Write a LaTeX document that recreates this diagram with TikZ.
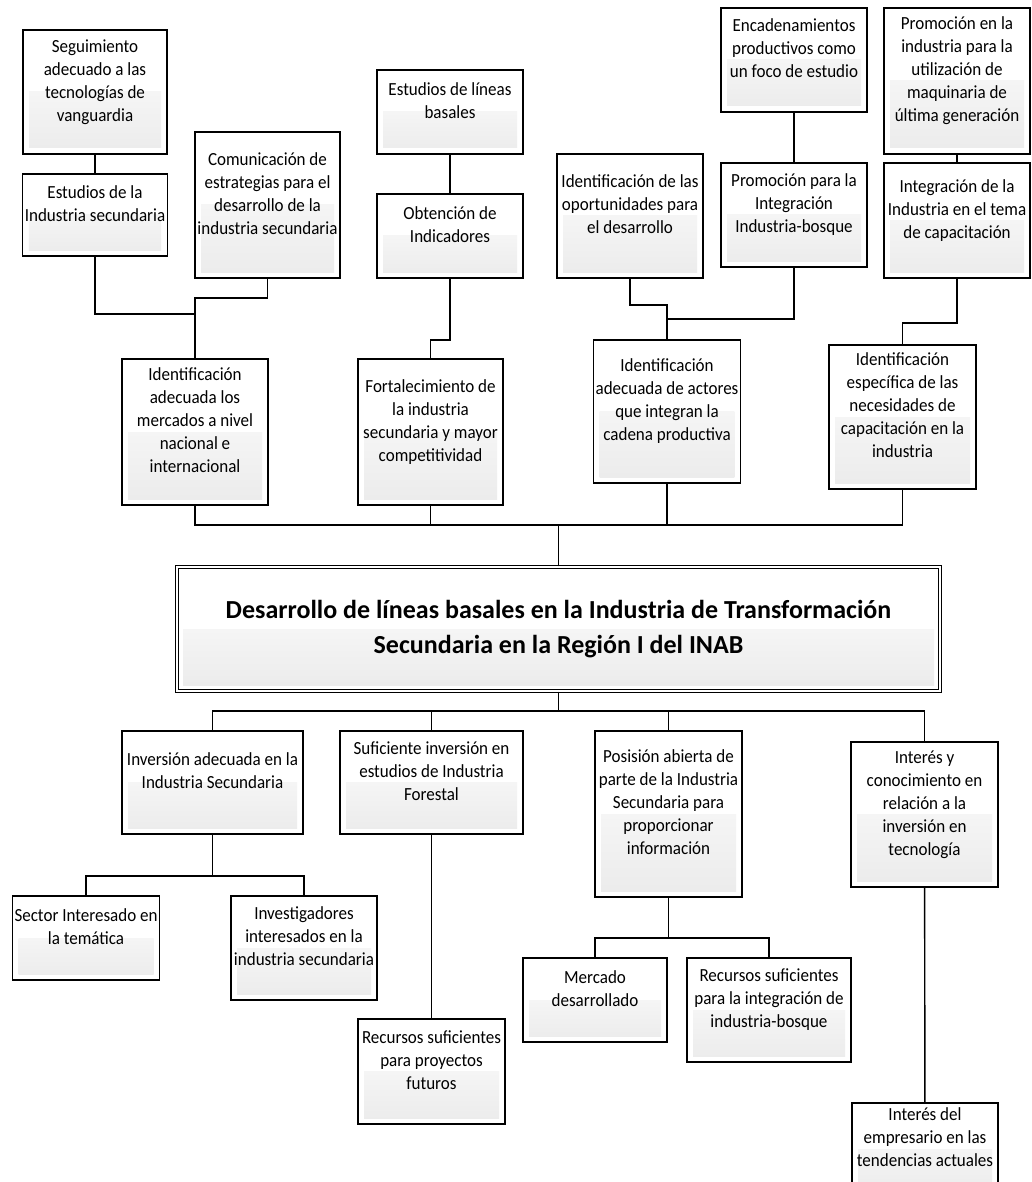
\documentclass[tikz,border=0pt]{standalone}
\usepackage{fontspec}
\setmainfont{Carlito}[FakeStretch=0.92]
\newfontfamily\titlefont{Carlito}
\usepackage{tikz}
\definecolor{boxband}{HTML}{EBEBEB}
\tikzset{
  box/.style={draw, line width=1.4pt, fill=white, align=center, inner sep=2pt,
    font=\fontsize{18.5}{23}\selectfont,
    path picture={\shade[top color=white, bottom color=boxband]
      ([shift={(6pt,6pt)}]path picture bounding box.south west) rectangle
      ([xshift=-6pt]path picture bounding box.east);}},
  dims/.style 2 args={minimum width=#1pt, minimum height=#2pt},
  titlebox/.style={box, double, double distance=2.2pt, line width=1.1pt,
    font=\titlefont\fontsize{26}{35}\selectfont\bfseries},
  link/.style={line width=1.4pt}
}

\begin{document}
\begin{tikzpicture}[x=1pt,y=-1pt]
  \useasboundingbox (0,0) rectangle (1032,1182);

  % upper branches
  \node[box, dims={144}{124}] (segui) at (95,92) {Seguimiento\\adecuado a las\\tecnologías de\\vanguardia\\[0pt]};
  \node[box, dims={144}{82}] (estind) at (95,215) {Estudios de la\\Industria secundaria\\[0pt]};
  \node[box, dims={145}{146}] (comun) at (267.5,205) {Comunicación de\\estrategias para el\\desarrollo de la\\industria secundaria\\[0pt]};
  \node[box, dims={146}{84}] (estlin) at (450,112) {Estudios de líneas\\basales\\[0pt]};
  \node[box, dims={146}{84}] (obten) at (450,236) {Obtención de\\Indicadores\\[0pt]};
  \node[box, dims={146}{124}] (oport) at (630,216) {Identificación de las\\oportunidades para\\el desarrollo\\[0pt]};
  \node[box, dims={146}{104}] (encad) at (794,60) {Encadenamientos\\productivos como\\un foco de estudio\\[0pt]};
  \node[box, dims={146}{104}] (promint) at (794,215) {Promoción para la\\Integración\\Industria-bosque\\[0pt]};
  \node[box, dims={146}{146}] (promind) at (957,81) {Promoción en la\\industria para la\\utilización de\\maquinaria de\\última generación\\[0pt]};
  \node[box, dims={146}{115}] (integ) at (957,220.5) {Integración de la\\Industria en el tema\\de capacitación\\[0pt]};

  \node[box, dims={146}{146}] (mercados) at (195,432) {Identificación\\adecuada los\\mercados a nivel\\nacional e\\internacional\\[0pt]};
  \node[box, dims={145}{146}] (fortal) at (430.5,432) {Fortalecimiento de\\la industria\\secundaria y mayor\\competitividad\\[0pt]};
  \node[box, dims={146}{143}] (actores) at (667,411.5) {Identificación\\adecuada de actores\\que integran la\\cadena productiva\\[0pt]};
  \node[box, dims={147}{144}] (especif) at (902.5,417) {Identificación\\específica de las\\necesidades de\\capacitación en la\\industria\\[0pt]};

  % central problem
  \node[titlebox, dims={763}{124}] (title) at (558.5,629) {Desarrollo de líneas basales en la Industria de Transformación\\Secundaria en la Región I del INAB};

  % lower branches
  \node[box, dims={181}{103}] (invade) at (212.5,782.5) {Inversión adecuada en la\\Industria Secundaria\\[0pt]};
  \node[box, dims={183}{103}] (sufinv) at (431.5,782.5) {Suficiente inversión en\\estudios de Industria\\Forestal\\[0pt]};
  \node[box, dims={147}{166}] (posic) at (668.5,814) {Posisión abierta de\\parte de la Industria\\Secundaria para\\proporcionar\\información\\[0pt]};
  \node[box, dims={147}{145}] (intcon) at (924.5,814.5) {Interés y\\conocimiento en\\relación a la\\inversión en\\tecnología\\[0pt]};

  \node[box, dims={146}{84}] (sector) at (86,938) {Sector Interesado en\\la temática\\[0pt]};
  \node[box, dims={146}{104}] (invest) at (304,948) {Investigadores\\interesados en la\\industria secundaria\\[0pt]};
  \node[box, dims={147}{105}] (recproy) at (431.5,1071.5) {Recursos suficientes\\para proyectos\\futuros\\[0pt]};
  \node[box, dims={144}{84}] (mercado) at (595,1000) {Mercado\\desarrollado\\[0pt]};
  \node[box, dims={164}{104}] (recint) at (769,1010) {Recursos suficientes\\para la integración de\\industria-bosque\\[0pt]};
  \node[box, dims={146}{92}] (intemp) at (925,1149) {Interés del\\empresario en las\\tendencias actuales\\[0pt]};

  % junctions
  \coordinate (jA) at (195,314);
  \coordinate (jB) at (195,298);
  \coordinate (jC) at (430.5,340);
  \coordinate (jD) at (667,305);
  \coordinate (jE) at (667,319);
  \coordinate (jF) at (902.5,323);
  \coordinate (busT) at (558.5,525);
  \coordinate (busB) at (558.5,711);
  \coordinate (jG) at (212.5,876);
  \coordinate (jH) at (668.5,938);

  % connectors above
  \draw[link] (segui) -- (estind);
  \draw[link] (estind.south) |- (jA) -- (mercados.north);
  \draw[link] (comun.south) |- (jB) -- (jA);
  \draw[link] (estlin) -- (obten);
  \draw[link] (obten.south) |- (jC) -- (fortal.north);
  \draw[link] (encad) -- (promint);
  \draw[link] (oport.south) |- (jD) -- (actores.north);
  \draw[link] (promint.south) |- (jE);
  \draw[link] (promind) -- (integ);
  \draw[link] (integ.south) |- (jF) -- (especif.north);
  \draw[link] (mercados.south) |- (busT) -| (especif.south);
  \draw[link] (fortal.south) -- (fortal.south |- busT);
  \draw[link] (actores.south) -- (actores.south |- busT);
  \draw[link] (title.north) -- (busT);

  % connectors below
  \draw[link] (title.south) -- (busB);
  \draw[link] (invade.north) |- (busB) -| (intcon.north);
  \draw[link] (sufinv.north) -- (sufinv.north |- busB);
  \draw[link] (posic.north) -- (posic.north |- busB);
  \draw[link] (invade.south) -- (jG);
  \draw[link] (sector.north) |- (jG) -| (invest.north);
  \draw[link] (sufinv) -- (recproy);
  \draw[link] (posic.south) -- (jH);
  \draw[link] (mercado.north) |- (jH) -| (recint.north);
  \draw[link] (intcon) -- (intemp);
\end{tikzpicture}
\end{document}
